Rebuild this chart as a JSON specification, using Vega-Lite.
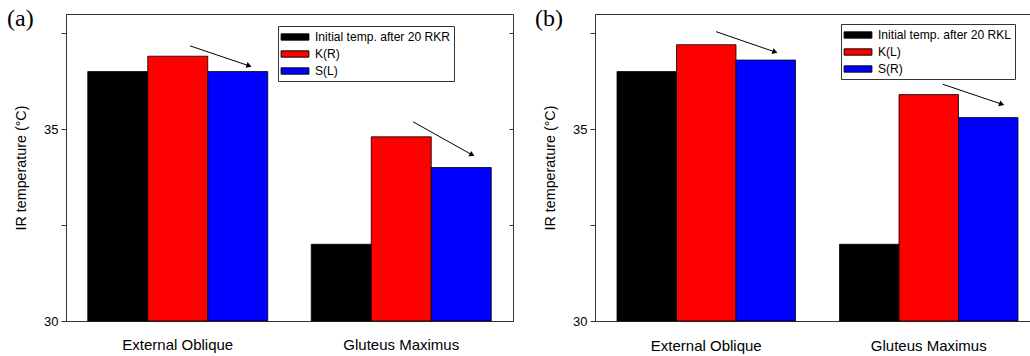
{
  "$schema": "https://vega.github.io/schema/vega-lite/v6.json",
  "padding": {"left": 6, "top": 6, "right": 0, "bottom": 0},
  "background": "white",
  "config": {
    "font": "Liberation Sans",
    "view": {"stroke": "#333333", "strokeWidth": 1},
    "axis": {"labelFont": "Liberation Sans", "titleFont": "Liberation Sans", "labelColor": "black", "titleColor": "black", "labelFontSize": 13, "titleFontSize": 14.3, "titleFontWeight": "normal", "domainColor": "#333333", "tickColor": "#333333", "grid": false},
    "title": {"font": "Liberation Serif", "fontSize": 24, "fontWeight": "normal", "anchor": "start", "frame": "group", "color": "black"},
    "legend": {"labelFont": "Liberation Sans", "labelFontSize": 12.1, "labelColor": "black", "strokeColor": "#333333", "padding": 3, "rowPadding": 2, "labelOffset": 12, "symbolOffset": 6, "symbolType": "M-1.85,-0.42H1.85V0.42H-1.85Z", "symbolSize": 225, "symbolStrokeColor": "black", "symbolStrokeWidth": 1, "symbolOpacity": 1, "fillColor": "white"},
    "concat": {"spacing": 20}
  },
  "datasets": {
    "a": [
      {"muscle": "External Oblique", "series": "Initial temp. after 20 RKR", "temp": 36.5},
      {"muscle": "External Oblique", "series": "K(R)", "temp": 36.9},
      {"muscle": "External Oblique", "series": "S(L)", "temp": 36.5},
      {"muscle": "Gluteus Maximus", "series": "Initial temp. after 20 RKR", "temp": 32.0},
      {"muscle": "Gluteus Maximus", "series": "K(R)", "temp": 34.8},
      {"muscle": "Gluteus Maximus", "series": "S(L)", "temp": 34.0}
    ],
    "b": [
      {"muscle": "External Oblique", "series": "Initial temp. after 20 RKL", "temp": 36.5},
      {"muscle": "External Oblique", "series": "K(L)", "temp": 37.2},
      {"muscle": "External Oblique", "series": "S(R)", "temp": 36.8},
      {"muscle": "Gluteus Maximus", "series": "Initial temp. after 20 RKL", "temp": 32.0},
      {"muscle": "Gluteus Maximus", "series": "K(L)", "temp": 35.9},
      {"muscle": "Gluteus Maximus", "series": "S(R)", "temp": 35.3}
    ],
    "arrows": [
      {"id": "a1", "panel": "a", "x1": 0.555, "y1": 37.17, "x2": 0.819, "y2": 36.65},
      {"id": "a2", "panel": "a", "x1": 1.553, "y1": 35.19, "x2": 1.817, "y2": 34.33},
      {"id": "b1", "panel": "b", "x1": 0.544, "y1": 37.54, "x2": 0.809, "y2": 37.01},
      {"id": "b2", "panel": "b", "x1": 1.563, "y1": 36.17, "x2": 1.828, "y2": 35.65}
    ]
  },
  "resolve": {"scale": {"x": "independent", "y": "independent", "color": "independent", "xOffset": "independent"}},
  "hconcat": [
    {
      "title": {"text": "(a)", "dx": -59, "dy": 21},
      "width": 447,
      "height": 307,
      "layer": [
        {
          "data": {"name": "a"},
          "mark": {"type": "bar", "stroke": "black", "strokeWidth": 0.8},
          "encoding": {
            "x": {"field": "muscle", "type": "nominal", "sort": ["External Oblique", "Gluteus Maximus"], "scale": {"paddingInner": 0, "paddingOuter": 0}, "axis": {"title": null, "labelAngle": 0, "ticks": false, "labelPadding": 16, "labelFontSize": 15}},
            "xOffset": {"field": "series", "type": "nominal", "sort": ["Initial temp. after 20 RKR", "K(R)", "S(L)"], "scale": {"paddingInner": 0, "paddingOuter": 0.3625}},
            "y": {"field": "temp", "type": "quantitative", "scale": {"domain": [30, 38], "nice": false, "zero": false}, "axis": {"title": "IR temperature (°C)", "values": [30, 32.5, 35, 37.5], "labelExpr": "datum.value % 5 === 0 ? datum.label : ''", "tickSize": 5, "labelPadding": 3, "titlePadding": 15}},
            "y2": {"datum": 30},
            "color": {"field": "series", "type": "nominal", "sort": ["Initial temp. after 20 RKR", "K(R)", "S(L)"], "scale": {"domain": ["Initial temp. after 20 RKR", "K(R)", "S(L)"], "range": ["#000000", "#ff0000", "#0000ff"]}, "legend": {"title": null, "orient": "none", "legendX": 212, "legendY": 12}}
          }
        },
        {
          "data": {"name": "arrows"},
          "transform": [{"filter": "datum.panel === 'a'"}],
          "mark": {"type": "rule", "color": "black", "strokeWidth": 1},
          "encoding": {
            "x": {"field": "x1", "type": "quantitative", "scale": {"domain": [0, 2], "nice": false, "zero": false}, "axis": null},
            "x2": {"field": "x2"},
            "y": {"field": "y1", "type": "quantitative", "axis": {"orient": "right", "labels": false, "title": null, "values": [30, 32.5, 35, 37.5], "tickSize": -4, "domain": false}},
            "y2": {"field": "y2"}
          }
        },
        {
          "data": {"name": "arrows"},
          "transform": [{"filter": "datum.id === 'a1'"}],
          "mark": {"type": "point", "shape": "triangle-right", "filled": true, "color": "black", "opacity": 1, "size": 36, "angle": 19},
          "encoding": {
            "x": {"field": "x2", "type": "quantitative", "scale": {"domain": [0, 2], "nice": false, "zero": false}, "axis": null},
            "y": {"field": "y2", "type": "quantitative", "axis": null}
          }
        },
        {
          "data": {"name": "arrows"},
          "transform": [{"filter": "datum.id === 'a2'"}],
          "mark": {"type": "point", "shape": "triangle-right", "filled": true, "color": "black", "opacity": 1, "size": 36, "angle": 29},
          "encoding": {
            "x": {"field": "x2", "type": "quantitative", "scale": {"domain": [0, 2], "nice": false, "zero": false}, "axis": null},
            "y": {"field": "y2", "type": "quantitative", "axis": null}
          }
        }
      ],
      "resolve": {"scale": {"x": "independent"}, "axis": {"y": "independent"}}
    },
    {
      "title": {"text": "(b)", "dx": -60, "dy": 21},
      "width": 437,
      "height": 307,
      "layer": [
        {
          "data": {"name": "b"},
          "mark": {"type": "bar", "stroke": "black", "strokeWidth": 0.8},
          "encoding": {
            "x": {"field": "muscle", "type": "nominal", "sort": ["External Oblique", "Gluteus Maximus"], "scale": {"paddingInner": 0, "paddingOuter": 0, "range": [0, 445]}, "axis": {"title": null, "labelAngle": 0, "ticks": false, "labelPadding": 17, "labelFontSize": 15}},
            "xOffset": {"field": "series", "type": "nominal", "sort": ["Initial temp. after 20 RKL", "K(L)", "S(R)"], "scale": {"paddingInner": 0, "paddingOuter": 0.37}},
            "y": {"field": "temp", "type": "quantitative", "scale": {"domain": [30, 38], "nice": false, "zero": false}, "axis": {"title": "IR temperature (°C)", "values": [30, 32.5, 35, 37.5], "labelExpr": "datum.value % 5 === 0 ? datum.label : ''", "tickSize": 5, "labelPadding": 3, "titlePadding": 15}},
            "y2": {"datum": 30},
            "color": {"field": "series", "type": "nominal", "sort": ["Initial temp. after 20 RKL", "K(L)", "S(R)"], "scale": {"domain": ["Initial temp. after 20 RKL", "K(L)", "S(R)"], "range": ["#000000", "#ff0000", "#0000ff"]}, "legend": {"title": null, "orient": "none", "legendX": 246, "legendY": 10}}
          }
        },
        {
          "data": {"name": "arrows"},
          "transform": [{"filter": "datum.panel === 'b'"}],
          "mark": {"type": "rule", "color": "black", "strokeWidth": 1},
          "encoding": {
            "x": {"field": "x1", "type": "quantitative", "scale": {"domain": [0, 2], "nice": false, "zero": false, "range": [0, 445]}, "axis": null},
            "x2": {"field": "x2"},
            "y": {"field": "y1", "type": "quantitative", "axis": null},
            "y2": {"field": "y2"}
          }
        },
        {
          "data": {"name": "arrows"},
          "transform": [{"filter": "datum.panel === 'b'"}],
          "mark": {"type": "point", "shape": "triangle-right", "filled": true, "color": "black", "opacity": 1, "size": 36, "angle": 19},
          "encoding": {
            "x": {"field": "x2", "type": "quantitative", "scale": {"domain": [0, 2], "nice": false, "zero": false, "range": [0, 445]}, "axis": null},
            "y": {"field": "y2", "type": "quantitative", "axis": null}
          }
        }
      ],
      "resolve": {"scale": {"x": "independent"}, "axis": {"y": "independent"}}
    }
  ]
}
